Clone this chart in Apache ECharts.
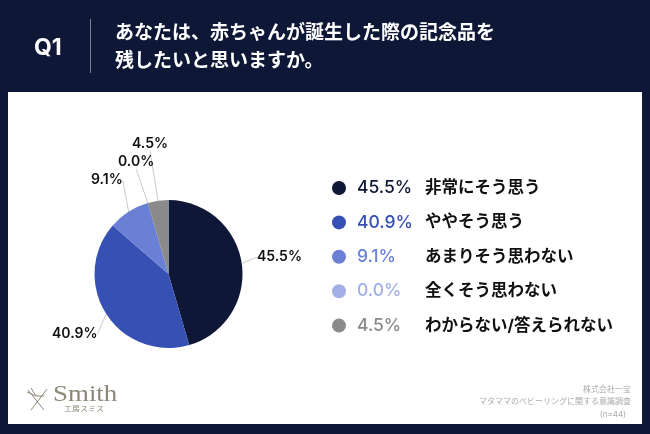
<!DOCTYPE html>
<html>
<head>
<meta charset="utf-8">
<style>
  html, body { margin: 0; padding: 0; background: #0e1735; }
  #chart { width: 650px; height: 434px; }
</style>
<script src="https://cdn.jsdelivr.net/npm/echarts@6/dist/echarts.min.js"></script>
</head>
<body>
<div id="chart"></div>
<script>
var categories = ['非常にそう思う', 'ややそう思う', 'あまりそう思わない', '全くそう思わない', 'わからない/答えられない'];
var values = [45.5, 40.9, 9.1, 0.0, 4.5];
var colors = ['#0e1735', '#3650b3', '#6a80d4', '#a3b0e6', '#8a8a8a'];
var labelSpots = [[257, 257], [52, 334], [91, 180], [118, 162], [132, 144]];
var titleLines = 'あなたは、赤ちゃんが誕生した際の記念品を\n残したいと思いますか。';
var sourceLines = ['株式会社一宝', 'マタママのベビーリングに関する意識調査', '(n=44)'];

var FONT = 'Inter, "Noto Sans CJK JP", sans-serif';
var chart = echarts.init(document.getElementById('chart'));

var rich = { n: { fontSize: 16.5, fontWeight: 'bold', color: '#111', fontFamily: FONT } };
colors.forEach(function (c, i) {
    rich['p' + i] = { width: 68, fontSize: 17.5, fontWeight: 500, color: c, fontFamily: FONT, padding: [0, 0, 0, 6] };
});

function logoLine(x1, y1, x2, y2) {
    return { type: 'line', shape: { x1: x1, y1: y1, x2: x2, y2: y2 }, style: { stroke: '#8c8878', lineWidth: 1 } };
}

var option = {
    animation: false,
    backgroundColor: '#0e1735',
    graphic: [
        { type: 'rect', z: 0, shape: { x: 8, y: 92, width: 634, height: 332 }, style: { fill: '#fff' } },
        { type: 'line', shape: { x1: 90.5, y1: 19, x2: 90.5, y2: 73 }, style: { stroke: '#7d8296', lineWidth: 1 } },
        { type: 'text', x: 34, y: 48, style: { text: 'Q1', fill: '#fff', font: 'bold 23px ' + FONT, verticalAlign: 'middle' } },
        { type: 'text', x: 115, y: 47, style: { text: titleLines, fill: '#fff', font: 'bold 19px ' + FONT, lineHeight: 28, verticalAlign: 'middle' } },
        { type: 'text', x: 631, y: 390, style: { text: sourceLines[0], fill: '#aaa', font: '8px ' + FONT, align: 'right', verticalAlign: 'middle' } },
        { type: 'text', x: 631, y: 402, style: { text: sourceLines[1], fill: '#aaa', font: '8px ' + FONT, align: 'right', verticalAlign: 'middle' } },
        { type: 'text', x: 626, y: 415, style: { text: sourceLines[2], fill: '#aaa', font: '8px ' + FONT, align: 'right', verticalAlign: 'middle' } },
        { type: 'text', x: 53, y: 395, scaleX: 1.17, originX: 0, style: { text: 'Smith', fill: '#8c8878', font: '23px "Liberation Serif", serif', verticalAlign: 'middle' } },
        { type: 'text', x: 64, y: 408, scaleX: 1.14, originX: 0, style: { text: '工房スミス', fill: '#8c8878', font: '7px "Noto Sans CJK JP", sans-serif', verticalAlign: 'middle' } },
        logoLine(28, 390, 44, 410),
        logoLine(47, 389, 31, 410),
        logoLine(27, 392, 36, 396),
        logoLine(31, 388, 36, 396),
        logoLine(36, 396, 44, 396)
    ],
    legend: {
        orient: 'vertical',
        left: 332,
        top: 178,
        padding: 0,
        icon: 'circle',
        itemWidth: 14,
        itemHeight: 14,
        itemGap: 14.4,
        selectedMode: false,
        data: categories,
        textStyle: { rich: rich, fontFamily: FONT, lineHeight: 20 },
        formatter: function (name) {
            var i = categories.indexOf(name);
            return '{p' + i + '|' + values[i].toFixed(1) + '%}{n|' + name + '}';
        }
    },
    series: [{
        type: 'pie',
        center: [168.5, 274],
        radius: [0, 74],
        startAngle: 90,
        clockwise: true,
        minShowLabelAngle: -1,
        stillShowZeroSum: true,
        avoidLabelOverlap: false,
        data: categories.map(function (name, i) {
            return { name: name, value: values[i], itemStyle: { color: colors[i] } };
        }),
        label: {
            show: true,
            fontSize: 14,
            fontWeight: 600,
            color: '#111',
            fontFamily: FONT,
            formatter: function (p) { return values[p.dataIndex].toFixed(1) + '%'; }
        },
        labelLine: { show: true, length: 8, length2: 0, lineStyle: { color: '#ccc', width: 1 } },
        labelLayout: function (p) {
            var s = labelSpots[p.dataIndex];
            return { x: s[0], y: s[1], align: 'left', verticalAlign: 'middle' };
        }
    }]
};
chart.setOption(option);
</script>
</body>
</html>
